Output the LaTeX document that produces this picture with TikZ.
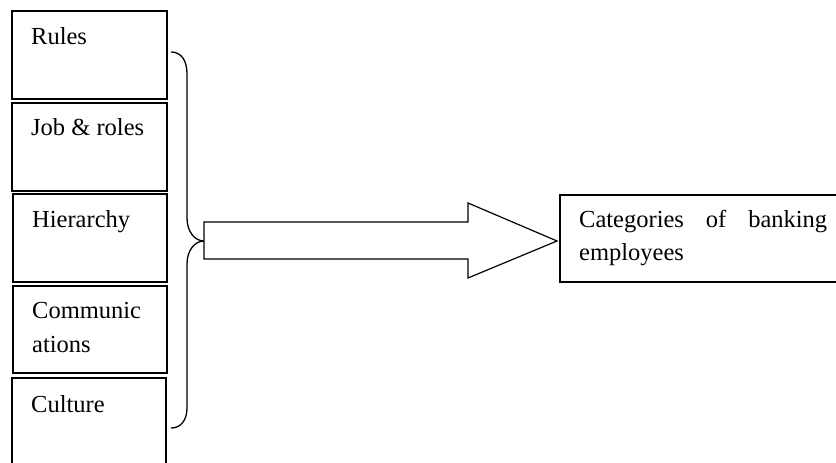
\documentclass[tikz,border=0pt]{standalone}
\usepackage{fontspec}
\setmainfont{Liberation Serif}
\begin{document}
\begin{tikzpicture}[x=1pt,y=-1pt,
  boxline/.style={draw=black,line width=1.2pt,fill=white},
  lbl/.style={anchor=base west,inner sep=0pt,font=\fontsize{24.5}{33}\selectfont},
  curly/.style={draw=black,line width=1.3pt},
  bigarrow/.style={draw=black,line width=1.2pt,fill=white,line join=miter}]
\useasboundingbox (0,0) rectangle (836,463);
\clip (0,0) rectangle (836,463);
% left boxes
\draw[boxline] (12,11) rectangle (167,99) coordinate (b1);
\draw[boxline] (12,103) rectangle (167,191) coordinate (b2);
\draw[boxline] (13,194) rectangle (167,282) coordinate (b3);
\draw[boxline] (13,286) rectangle (167,373) coordinate (b4);
\draw[boxline] (12,378) rectangle (166,480) coordinate (b5);
\node[lbl] (t1) at (31,44) {Rules};
\node[lbl] (t2) at (31,135) {Job \& roles};
\node[lbl] (t3) at (32,227) {Hierarchy};
\node[lbl] (t4) at (32,318) {Communic};
\node[lbl] (t4b) at (32,352) {ations};
\node[lbl] (t5) at (31,412) {Culture};
% brace
\coordinate (btop) at (171,52);
\coordinate (btip) at (204,241);
\coordinate (bbot) at (171,428);
\draw[curly] (btop) .. controls (181,52) and (187,60) .. (187,74)
  -- (187,218) .. controls (187,232) and (195,241) .. (btip)
  .. controls (195,241) and (187,250) .. (187,264)
  -- (187,408) .. controls (187,420) and (181,428) .. (bbot);
% right box
\draw[boxline] (560,195) rectangle (860,282) coordinate (rb);
\node[anchor=base west,inner sep=0pt,text width=248pt,align=justify,
  font=\fontsize{24.5}{33}\selectfont] (rt) at (579,227) {Categories of banking employees};
% big arrow
\coordinate (atip) at (557,241);
\draw[bigarrow] (204,222) -- (468,222) -- (468,203) -- (atip) -- (468,278) -- (468,259) -- (204,259) -- cycle;
\end{tikzpicture}
\end{document}
